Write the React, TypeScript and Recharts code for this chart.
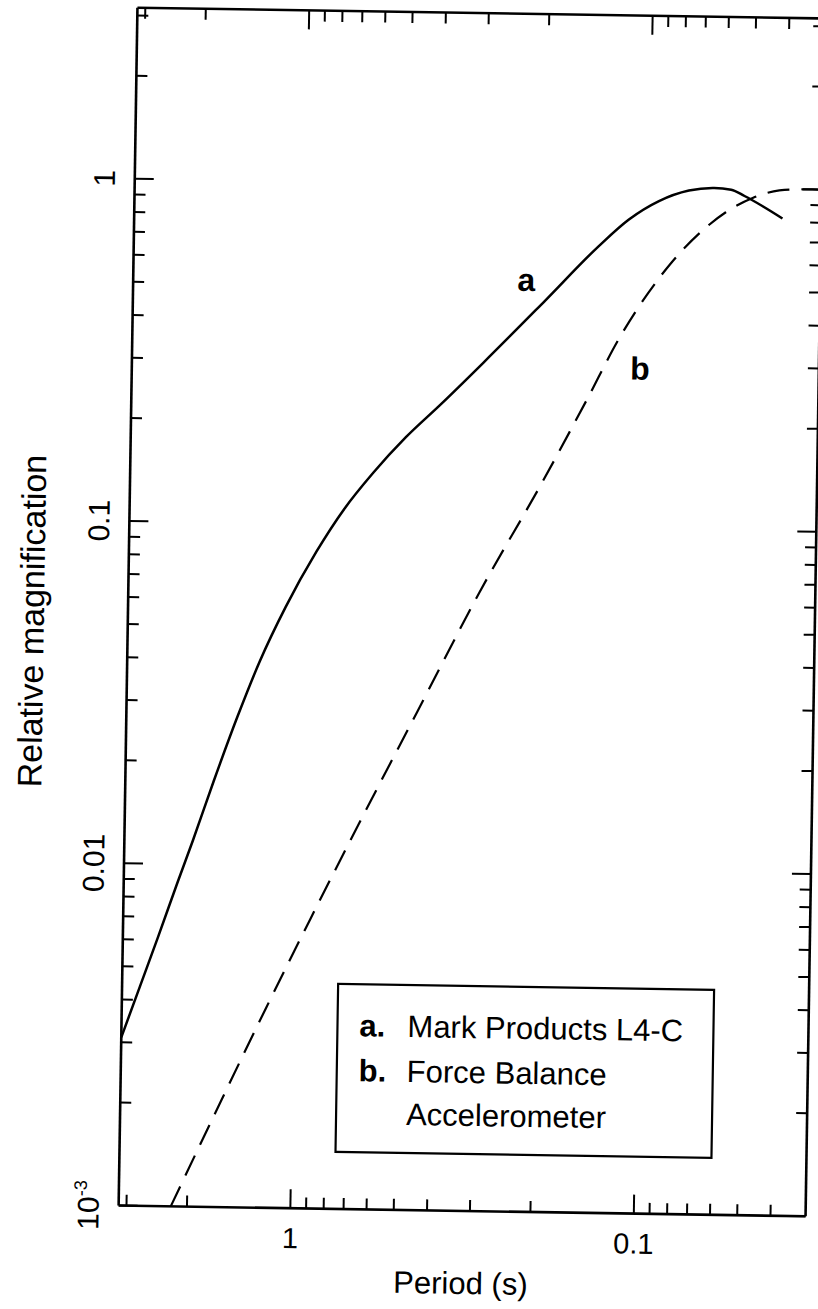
import { LineChart, Line, XAxis, YAxis } from 'recharts';

// curve a: Mark Products L4-C (solid)
const periodA = [3.162, 2.8, 2.5, 2.2, 2.0, 1.75, 1.5, 1.3, 1.1, 0.9, 0.75, 0.62, 0.5, 0.4, 0.3, 0.2, 0.14, 0.115, 0.094, 0.077, 0.065, 0.058, 0.053, 0.047, 0.041];
const magA = [0.0031, 0.0044, 0.0061, 0.0089, 0.0117, 0.0175, 0.0272, 0.0395, 0.057, 0.083, 0.111, 0.142, 0.181, 0.225, 0.301, 0.459, 0.668, 0.8, 0.91, 0.98, 1.0, 0.99, 0.95, 0.89, 0.82];

// curve b: Force Balance Accelerometer (dashed)
const periodB = [2.23, 1.6, 1.2, 0.9, 0.65, 0.45, 0.3, 0.2, 0.15, 0.12, 0.1, 0.085, 0.07, 0.06, 0.05, 0.042, 0.036, 0.0316];
const magB = [0.001, 0.00207, 0.00385, 0.00704, 0.0137, 0.0286, 0.0644, 0.135, 0.235, 0.365, 0.49, 0.61, 0.75, 0.85, 0.94, 0.99, 1.0, 1.0];

const xTicks = [3, 2, 1, 0.9, 0.8, 0.7, 0.6, 0.5, 0.4, 0.3, 0.2, 0.1, 0.09, 0.08, 0.07, 0.06, 0.05, 0.04];
const yTicks = [0.001, 0.002, 0.003, 0.004, 0.005, 0.006, 0.007, 0.008, 0.009, 0.01, 0.02, 0.03, 0.04, 0.05, 0.06, 0.07, 0.08, 0.09, 0.1, 0.2, 0.3, 0.4, 0.5, 0.6, 0.7, 0.8, 0.9, 1, 2, 3];
const xMajor = [1, 0.1];
const yMajor = [0.001, 0.01, 0.1, 1];
const xLabels: Record<string, string> = { '1': '1', '0.1': '0.1' };
const yLabels: Record<string, string> = { '1': '1', '0.1': '0.1', '0.01': '0.01' };

const W = 840;
const H = 1309;
const FONT = '"Liberation Sans", Arial, Helvetica, sans-serif';
const MAJOR = 19;
const MINOR = 11;

function BottomTick({ x, y, payload }: any) {
  const v = payload.value;
  const len = xMajor.includes(v) ? MAJOR : MINOR;
  const label = xLabels[String(v)];
  return (
    <g>
      <line x1={x} y1={y} x2={x} y2={y - len} stroke="#000" strokeWidth={2} />
      {label && (
        <text x={x} y={y + 40} textAnchor="middle" fontSize={29} fontFamily={FONT} fill="#000">
          {label}
        </text>
      )}
    </g>
  );
}

function TopTick({ x, y, payload }: any) {
  const len = xMajor.includes(payload.value) ? MAJOR : MINOR;
  return <line x1={x} y1={y} x2={x} y2={y + len} stroke="#000" strokeWidth={2} />;
}

function LeftTick({ x, y, payload }: any) {
  const v = payload.value;
  const len = yMajor.includes(v) ? MAJOR : MINOR;
  const label = yLabels[String(v)];
  return (
    <g>
      <line x1={x} y1={y} x2={x + len} y2={y} stroke="#000" strokeWidth={2} />
      {label && (
        <text transform={`translate(${x - 20},${y}) rotate(-90)`} textAnchor="middle" fontSize={30} fontFamily={FONT} fill="#000">
          {label}
        </text>
      )}
      {v === 0.001 && (
        <text transform={`translate(${x - 20},${y}) rotate(-90)`} textAnchor="middle" fontSize={30} fontFamily={FONT} fill="#000">
          10<tspan dy={-12} fontSize={18}>-3</tspan>
        </text>
      )}
    </g>
  );
}

function RightTick({ x, y, payload }: any) {
  const len = yMajor.includes(payload.value) ? MAJOR : MINOR;
  return <line x1={x} y1={y} x2={x - len} y2={y} stroke="#000" strokeWidth={2} />;
}

export default function App() {
  const dataA = periodA.map((p, i) => ({ p, m: magA[i] }));
  const dataB = periodB.map((p, i) => ({ p, m: magB[i] }));
  const axisLine = { stroke: '#000', strokeWidth: 2.6 };
  const xDomain = [0.0316228, 3.16228];
  const yDomain = [0.001, 3.16228];

  return (
    <div style={{ position: 'absolute', left: 0, top: 0, width: 818, height: 1309, overflow: 'hidden', background: '#fff' }}>
      <div style={{ position: 'absolute', left: 0, top: 0, width: W, height: H, transform: 'rotate(0.9deg)', transformOrigin: '471.5px 612px' }}>
        <LineChart width={W} height={H} margin={{ top: 12, left: 127, right: W - 816, bottom: H - 1212 }}>
          <XAxis
            dataKey="p"
            type="number"
            scale="log"
            domain={xDomain}
            reversed
            allowDataOverflow
            ticks={xTicks}
            interval={0}
            height={1}
            tickSize={0}
            tickMargin={0}
            tickLine={false}
            axisLine={axisLine}
            tick={<BottomTick />}
          />
          <XAxis
            xAxisId="top"
            orientation="top"
            dataKey="p"
            type="number"
            scale="log"
            domain={xDomain}
            reversed
            allowDataOverflow
            ticks={xTicks}
            interval={0}
            height={1}
            tickSize={0}
            tickMargin={0}
            tickLine={false}
            axisLine={axisLine}
            tick={<TopTick />}
          />
          <YAxis
            type="number"
            scale="log"
            domain={yDomain}
            allowDataOverflow
            ticks={yTicks}
            interval={0}
            width={1}
            tickSize={0}
            tickMargin={0}
            tickLine={false}
            axisLine={axisLine}
            tick={<LeftTick />}
          />
          <YAxis
            yAxisId="right"
            orientation="right"
            type="number"
            scale="log"
            domain={yDomain}
            allowDataOverflow
            ticks={yTicks}
            interval={0}
            width={1}
            tickSize={0}
            tickMargin={0}
            tickLine={false}
            axisLine={axisLine}
            tick={<RightTick />}
          />
          <Line data={dataA} dataKey="m" type="monotone" stroke="#000" strokeWidth={2.5} dot={false} isAnimationActive={false} />
          <Line data={dataB} dataKey="m" type="monotone" stroke="#000" strokeWidth={2.2} strokeDasharray="22 12" dot={false} isAnimationActive={false} />
        </LineChart>
        <svg style={{ position: 'absolute', left: 0, top: 0 }} width={W} height={H} fontFamily={FONT}>
          <text x={521} y={290} fontSize={32} fontWeight="bold" textAnchor="middle">a</text>
          <text x={636} y={377} fontSize={32} fontWeight="bold" textAnchor="middle">b</text>
          <rect x={344} y={986} width={376} height={168} fill="#fff" stroke="#000" strokeWidth={2.2} />
          <text x={366} y={1038} fontSize={31} fontWeight="bold">a.</text>
          <text x={414} y={1038} fontSize={31}>Mark Products L4-C</text>
          <text x={366} y={1083} fontSize={31} fontWeight="bold">b.</text>
          <text x={414} y={1083} fontSize={31}>Force Balance</text>
          <text x={414} y={1126} fontSize={31}>Accelerometer</text>
          <text x={471} y={1294} fontSize={31} textAnchor="middle">Period (s)</text>
          <text transform="translate(44,628) rotate(-90)" fontSize={34} textAnchor="middle">Relative magnification</text>
        </svg>
      </div>
    </div>
  );
}
